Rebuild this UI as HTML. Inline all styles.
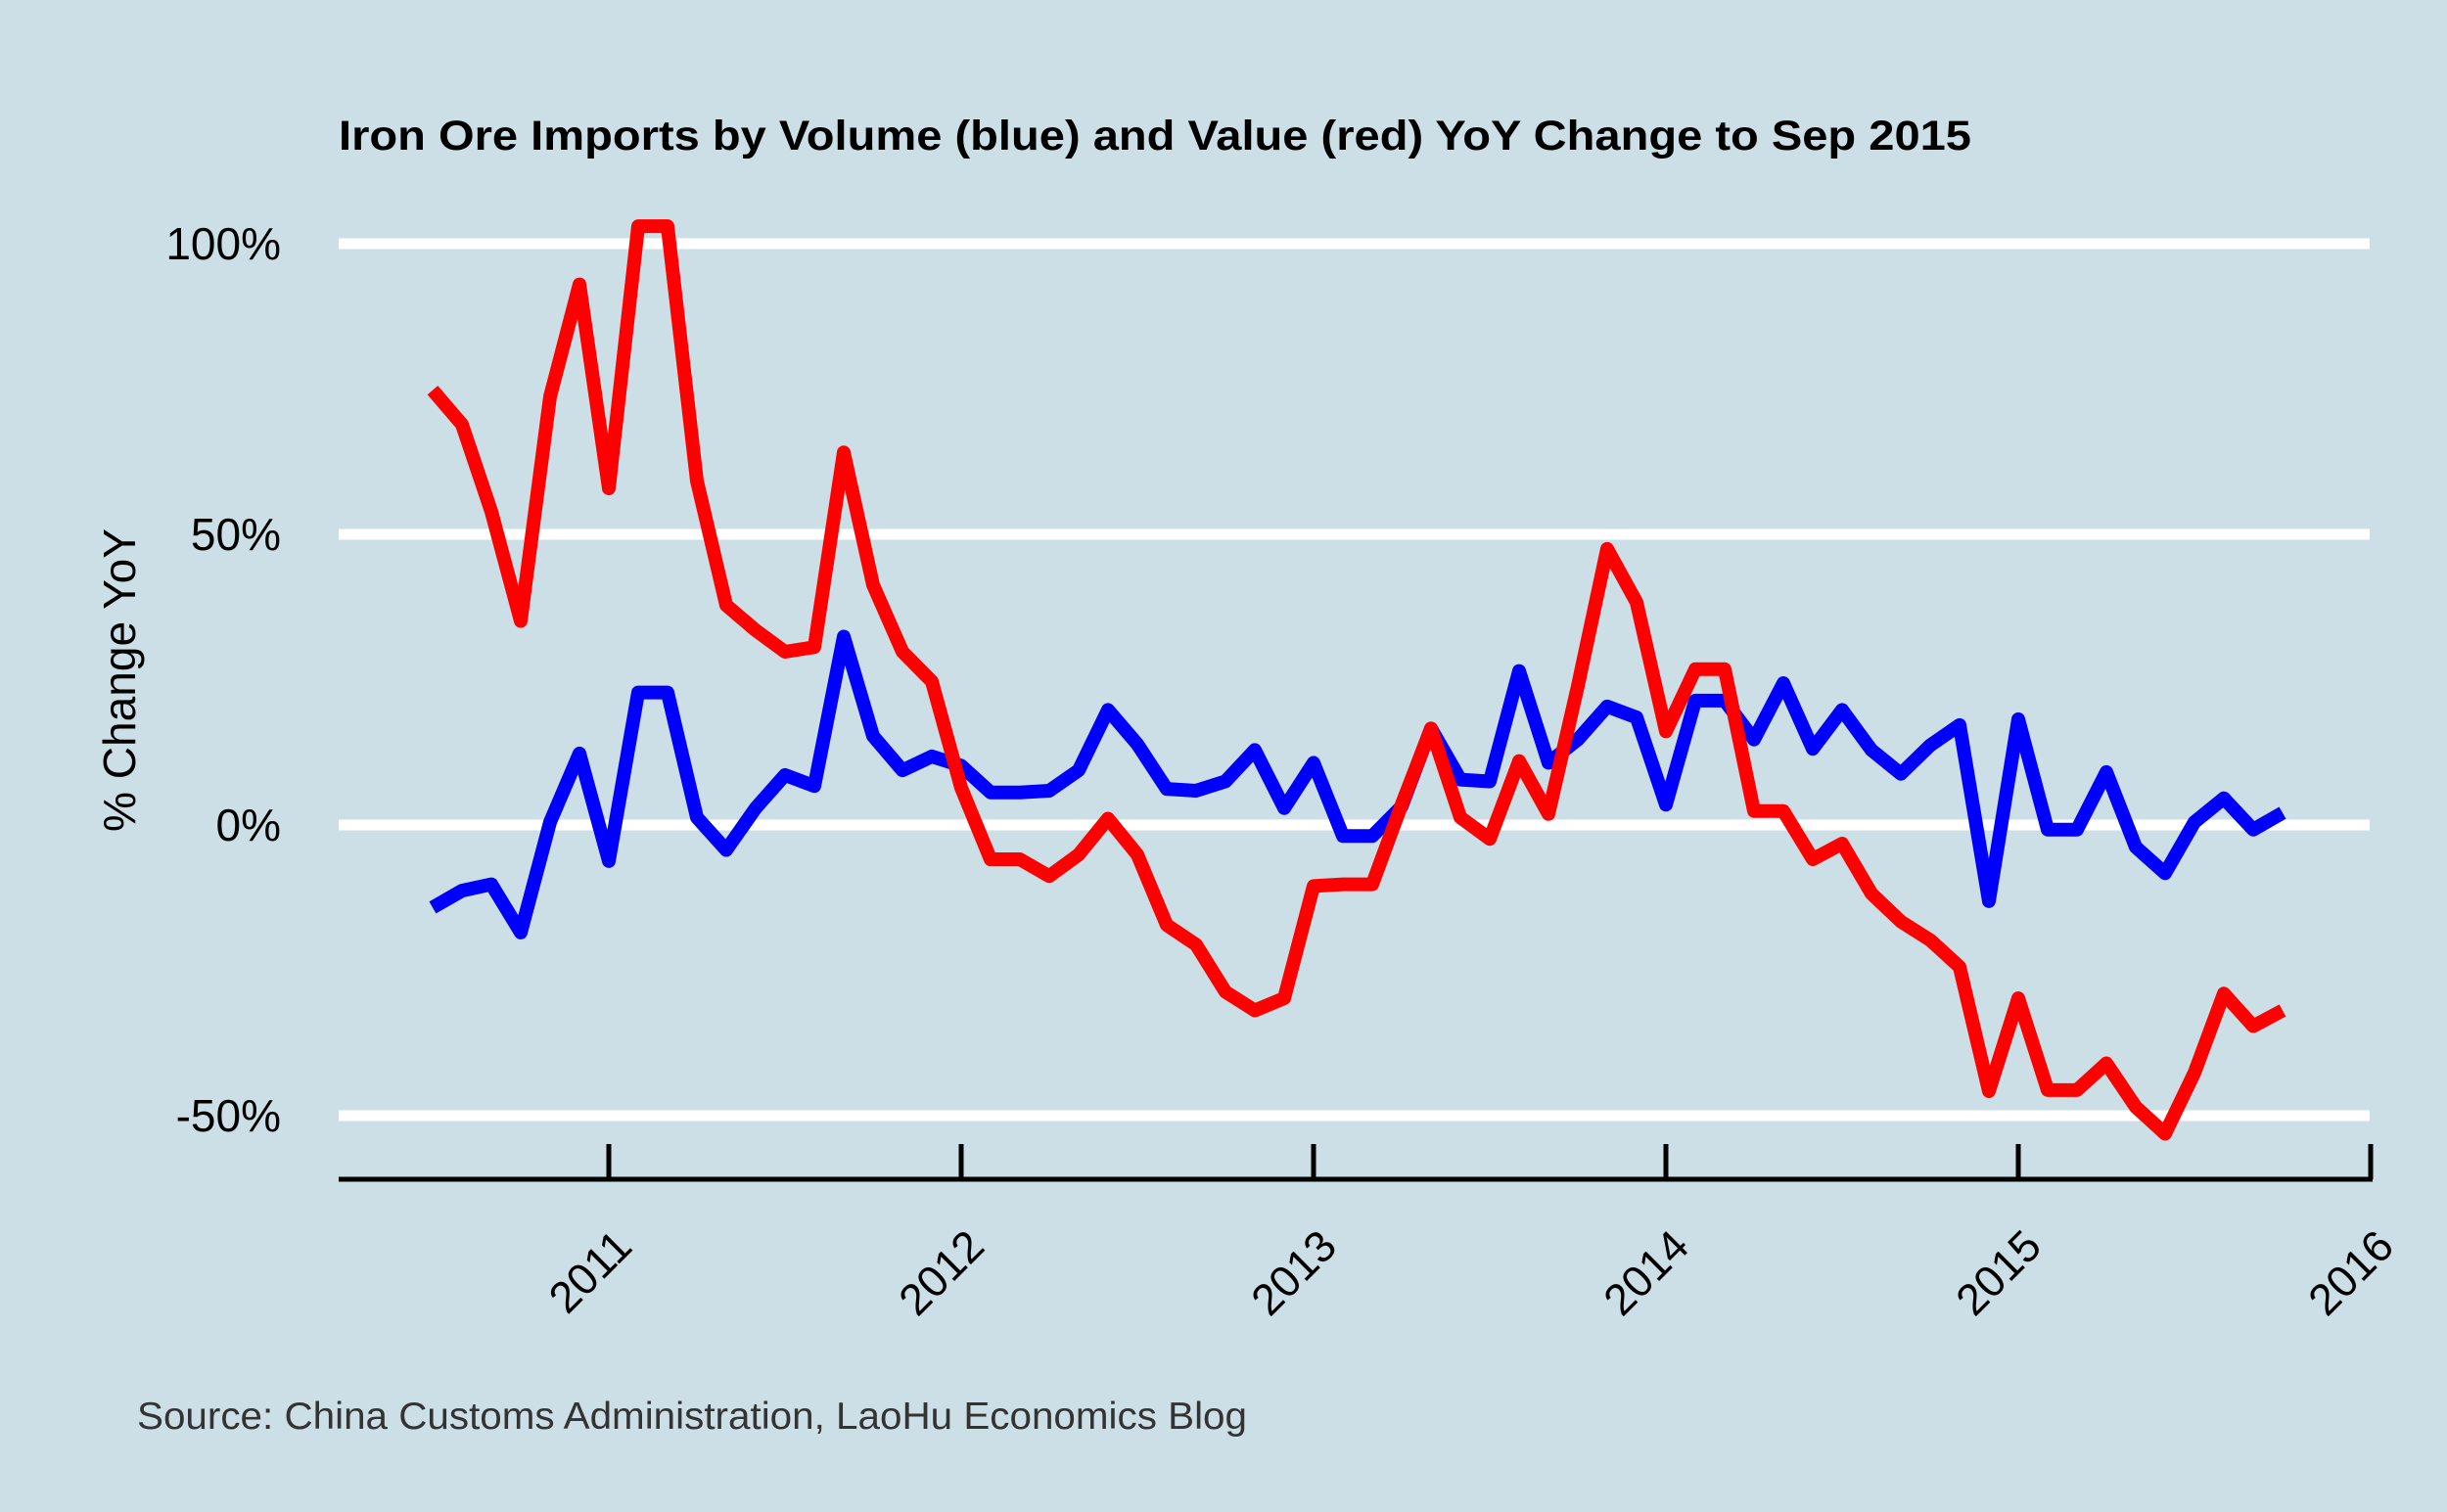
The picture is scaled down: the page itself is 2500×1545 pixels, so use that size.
<!DOCTYPE html>
<html><head><meta charset="utf-8"><style>
html,body{margin:0;padding:0;background:#cddfe6;}
svg{display:block;font-family:"Liberation Sans",Arial,sans-serif;}
</style></head><body>
<svg id="chart" width="2500" height="1545" viewBox="0 0 2500 1545">
<rect x="0" y="0" width="2500" height="1545" fill="#cddfe6"/>
<text x="346" y="153" font-size="43" font-weight="bold" textLength="1668" lengthAdjust="spacingAndGlyphs">Iron Ore Imports by Volume (blue) and Value (red) YoY Change to Sep 2015</text>
<g id="grid"></g>
<g id="yticks"></g>
<text transform="translate(138,695) rotate(-90)" text-anchor="middle" font-size="46" textLength="310" lengthAdjust="spacingAndGlyphs">% Change YoY</text>
<g id="xaxis"></g>
<g id="series"></g>
<text x="140" y="1460" font-size="39" fill="#333" textLength="1134" lengthAdjust="spacingAndGlyphs">Source: China Customs Administration, LaoHu Economics Blog</text>
</svg>
<script>
const yTicks = [100, 50, 0, -50];
const yTickLabels = ["100%", "50%", "0%", "-50%"];
const xTickYears = [2011, 2012, 2013, 2014, 2015, 2016];
const startYear = 2010, startMonth = 7;
const volumeYoY = [-14.2,-11.3,-10.2,-18.5,0.5,12.3,-6.2,22.8,22.8,1.3,-4.3,2.9,8.6,6.7,32.4,15.3,9.4,11.8,10.2,5.6,5.6,5.9,9.4,19.8,13.9,6.2,5.9,7.5,12.9,2.9,10.7,-1.9,-1.9,3.2,16.6,7.8,7.5,26.5,10.7,14.7,20.4,18.5,3.5,21.4,21.4,14.7,24.4,13.1,19.8,12.9,8.8,13.7,17.2,-13.1,18.2,-0.8,-0.8,9.1,-3.8,-8.3,0.5,4.6,-0.8,2.1];
const valueYoY = [74.8,68.9,53.9,35.1,73.7,93.0,57.9,103,103,59.2,37.8,33.5,29.8,30.6,64.1,41.3,29.8,24.7,6.4,-5.9,-5.9,-8.8,-5.1,1.1,-5.1,-17.2,-20.6,-28.7,-31.9,-29.8,-10.5,-10.2,-10.2,3.5,16.6,1.3,-2.4,11.0,1.9,23.9,47.5,38.3,16.1,26.8,26.8,2.4,2.4,-5.9,-3.2,-11.8,-16.6,-19.8,-24.4,-45.8,-29.8,-45.6,-45.6,-41.0,-48.5,-53.1,-42.6,-29.0,-34.6,-31.9];

const NS="http://www.w3.org/2000/svg";
const plotL=346, plotR=2421;
function yScale(v){return 843 - v*(297/50);}
function xScale(yearFrac){return 622 + (yearFrac-2011)*360;}
function mk(tag,attrs,parent){const e=document.createElementNS(NS,tag);for(const k in attrs)e.setAttribute(k,attrs[k]);parent.appendChild(e);return e;}

const grid=document.getElementById('grid'), yt=document.getElementById('yticks');
yTicks.forEach((v,i)=>{
  const l=mk('line',{x1:plotL,x2:plotR,y1:yScale(v),y2:yScale(v),stroke:'#fff','stroke-width':11},grid);
  
  
  const t=mk('text',{x:287,y:yScale(v)+16,'text-anchor':'end','font-size':46},yt);
  t.textContent=yTickLabels[i];
  
  
});

const xa=document.getElementById('xaxis');
const ax=mk('line',{x1:plotL,x2:plotR+3,y1:1205,y2:1205,stroke:'#000','stroke-width':5},xa);


xTickYears.forEach(y=>{
  const x=xScale(y);
  const tk=mk('line',{x1:x,x2:x,y1:1169,y2:1205,stroke:'#000','stroke-width':5},xa);
  
  
  const t=mk('text',{transform:`translate(${x+26},${1276}) rotate(-45)`,'text-anchor':'end','font-size':45},xa);
  t.textContent=String(y);
  
  
});

const ser=document.getElementById('series');
function drawLine(vals,color,name){
  const pts=vals.map((v,i)=>{const yf=startYear+(startMonth-1+i)/12;return xScale(yf)+','+yScale(v);}).join(' ');
  const p=mk('polyline',{points:pts,fill:'none',stroke:color,'stroke-width':14,'stroke-linejoin':'round'},ser);
  
  
}
drawLine(volumeYoY,'#0000ff','volume-line');
drawLine(valueYoY,'#ff0000','value-line');
</script>
</body></html>
